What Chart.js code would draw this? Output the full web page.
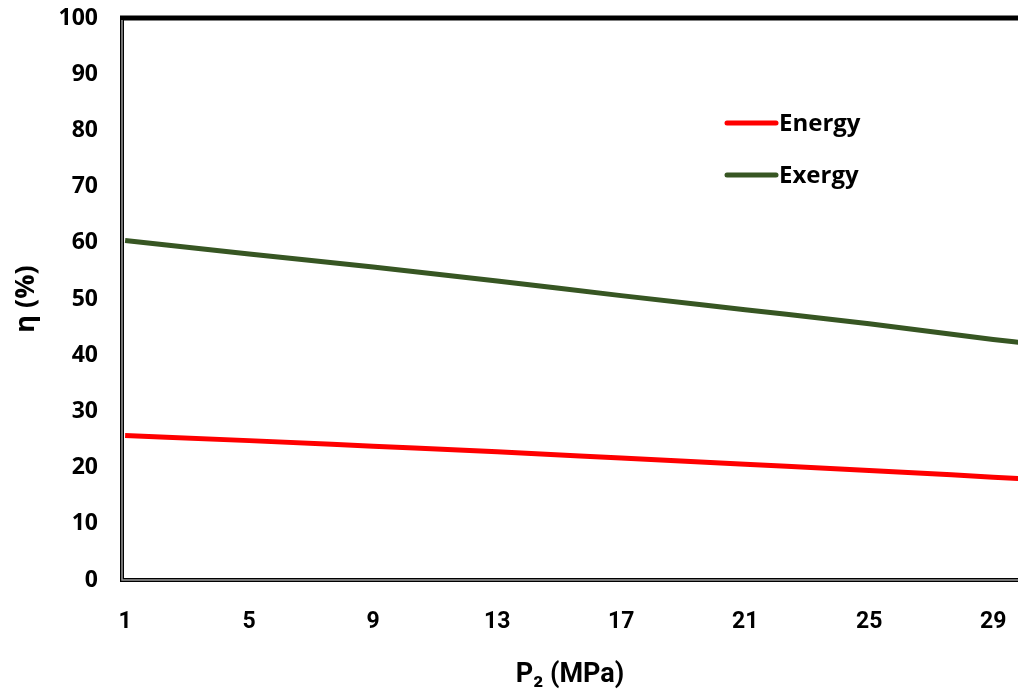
<!DOCTYPE html>
<html lang="en">
<head>
    <meta charset="UTF-8">
    <title>Energy and Exergy Efficiency vs P2</title>
    <script src="https://cdn.jsdelivr.net/npm/chart.js"></script>
    <style>
        html, body { margin: 0; padding: 0; background: #fff; }
        #wrap { width: 1018px; height: 695px; }
    </style>
</head>
<body>
    <div id="wrap"><canvas id="etaChart" width="1018" height="695"></canvas></div>
    <script>
        // values
        const pressure = [1, 5, 9, 13, 17, 21, 25, 29, 30];
        const energyEta = [25.7, 24.8, 23.8, 22.8, 21.7, 20.6, 19.5, 18.3, 18.0];
        const exergyEta = [60.4, 58.0, 55.7, 53.2, 50.6, 48.1, 45.6, 42.8, 42.2];
        const xTickValues = [1, 5, 9, 13, 17, 21, 25, 29];
        const seriesNames = ['Energy', 'Exergy'];
        const seriesColors = ['#ff0000', '#375623'];

        const toPoints = (ys) => pressure.map((x, i) => ({ x: x, y: ys[i] }));

        // drop the label overhang padding so the plot area sits where the original has it
        function noOverhang(axis) {
            axis.paddingTop = 0;
            axis.paddingBottom = 0;
            axis.paddingLeft = 0;
            axis.paddingRight = 0;
        }

        // Excel-like frame: thick top line, double left/bottom axis lines
        const framePlugin = {
            id: 'frame',
            beforeDatasetsDraw(chart) {
                const { ctx, chartArea: a } = chart;
                ctx.save();
                ctx.strokeStyle = '#000';
                ctx.lineWidth = 5;
                ctx.beginPath();
                ctx.moveTo(a.left - 2, a.top);
                ctx.lineTo(a.right + 2, a.top);
                ctx.stroke();
                ctx.lineWidth = 4;
                ctx.beginPath();
                ctx.moveTo(a.left, a.top);
                ctx.lineTo(a.left, a.bottom);
                ctx.lineTo(a.right + 2, a.bottom);
                ctx.stroke();
                ctx.strokeStyle = '#9a9a9a';
                ctx.lineWidth = 1.5;
                ctx.beginPath();
                ctx.moveTo(a.left, a.top + 2);
                ctx.lineTo(a.left, a.bottom);
                ctx.lineTo(a.right + 2, a.bottom);
                ctx.stroke();
                ctx.restore();
            }
        };

        // legend drawn inside the plot area, like the original
        const legendPlugin = {
            id: 'innerLegend',
            afterDraw(chart) {
                const { ctx } = chart;
                ctx.save();
                ctx.font = 'bold 24px "Open Sans", sans-serif';
                ctx.textBaseline = 'middle';
                ctx.lineCap = 'round';
                seriesNames.forEach((name, i) => {
                    const y = 123 + i * 52;
                    ctx.strokeStyle = seriesColors[i];
                    ctx.lineWidth = 5;
                    ctx.beginPath();
                    ctx.moveTo(727, y);
                    ctx.lineTo(776, y);
                    ctx.stroke();
                    ctx.fillStyle = '#000';
                    ctx.fillText(name, 779, y + 1);
                });
                ctx.restore();
            }
        };

        const ctx = document.getElementById('etaChart').getContext('2d');
        new Chart(ctx, {
            type: 'scatter',
            data: {
                datasets: [
                    {
                        label: seriesNames[0],
                        data: toPoints(energyEta),
                        showLine: true,
                        borderColor: seriesColors[0],
                        borderWidth: 5,
                        pointRadius: 0,
                        cubicInterpolationMode: 'monotone'
                    },
                    {
                        label: seriesNames[1],
                        data: toPoints(exergyEta),
                        showLine: true,
                        borderColor: seriesColors[1],
                        borderWidth: 5,
                        pointRadius: 0,
                        cubicInterpolationMode: 'monotone'
                    }
                ]
            },
            options: {
                responsive: false,
                animation: false,
                layout: { autoPadding: false, padding: { top: 18, right: 0, left: 0, bottom: 0 } },
                plugins: {
                    legend: { display: false },
                    tooltip: { enabled: false }
                },
                scales: {
                    x: {
                        type: 'linear',
                        min: 0.9,
                        max: 29.8,
                        grid: { display: false, drawTicks: false },
                        border: { display: false },
                        afterBuildTicks(axis) {
                            axis.ticks = xTickValues.map(v => ({ value: v }));
                        },
                        afterFit(axis) {
                            axis.height = 115;
                            noOverhang(axis);
                        },
                        ticks: {
                            color: '#000',
                            padding: 28,
                            maxRotation: 0,
                            autoSkip: false,
                            font: { family: 'Roboto, sans-serif', weight: 'bold', size: 23 }
                        },
                        title: {
                            display: true,
                            text: 'P\u2082 (MPa)',
                            color: '#000',
                            padding: { top: 14 },
                            font: { family: 'Roboto, sans-serif', weight: 'bold', size: 27 }
                        }
                    },
                    y: {
                        min: 0,
                        max: 100,
                        grid: { display: false, drawTicks: false },
                        border: { display: false },
                        afterFit(axis) {
                            axis.width = 122;
                            noOverhang(axis);
                        },
                        ticks: {
                            stepSize: 10,
                            color: '#000',
                            padding: 24,
                            font: { family: '"Open Sans", sans-serif', weight: 'bold', size: 23 }
                        },
                        title: {
                            display: true,
                            text: '\u03b7 (%)',
                            color: '#000',
                            padding: { top: 10, bottom: 0 },
                            font: { family: '"Open Sans", sans-serif', weight: 'bold', size: 27 }
                        }
                    }
                }
            },
            plugins: [framePlugin, legendPlugin]
        });
    </script>
</body>
</html>
